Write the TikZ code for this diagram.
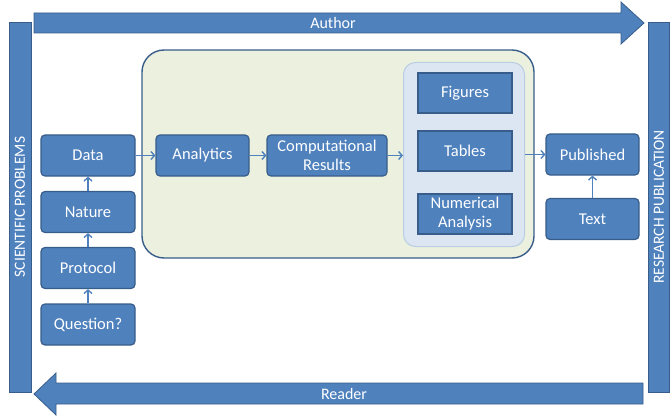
\documentclass[tikz,border=0pt]{standalone}
\usepackage{fontspec}
\setmainfont{Carlito}
\usetikzlibrary{arrows.meta}
\definecolor{boxblue}{HTML}{4F81BD}
\definecolor{boxline}{HTML}{385D8A}
\definecolor{greenfill}{HTML}{EBF1DE}
\definecolor{panelfill}{HTML}{DCE6F2}
\definecolor{panelline}{HTML}{B9CDE5}
\tikzset{
  box/.style={draw=boxline, line width=1.2pt, fill=boxblue, rounded corners=4pt,
    minimum width=94pt, minimum height=41pt, text=white, align=center,
    font=\fontsize{16.5}{19}\selectfont, inner sep=1pt},
  sqbox/.style={box, rounded corners=0pt, line width=1.6pt, minimum height=40pt},
  bigarrow/.style={draw=boxline, line width=0.8pt, fill=boxblue},
  bar/.style={draw=boxline, line width=0.8pt, fill=boxblue},
  lbl/.style={text=white, font=\fontsize{16}{18}\selectfont},
  barlbl/.style={text=white, font=\fontsize{15.5}{17}\selectfont},
  conn/.style={draw=boxblue, line width=1.4pt, -{Straight Barb[length=3.5pt,width=8pt]}}
}
\begin{document}
\begin{tikzpicture}[x=1pt,y=-1pt]
\useasboundingbox (0,0) rectangle (672,417);
% frame arrows and bars
\draw[bigarrow] (34,13) -- (621,13) -- (621,2) -- (644,23) -- (621,44) -- (621,33) -- (34,33) -- cycle;
\node[lbl] (author) at (333,23) {Author};
\draw[bigarrow] (643,383) -- (56,383) -- (56,373) -- (34,394) -- (56,415) -- (56,404) -- (643,404) -- cycle;
\node[lbl] (reader) at (344,394) {Reader};
\draw[bar] (9,22) rectangle (31,392);
\node[barlbl, rotate=90] (sci) at (20,207) {SCIENTIFIC PROBLEMS};
\draw[bar] (648,22) rectangle (669,392);
\node[barlbl, rotate=90] (res) at (659,207) {RESEARCH PUBLICATION};
% containers
\node[draw=boxline, line width=1.4pt, fill=greenfill, rounded corners=22pt,
  minimum width=392pt, minimum height=208pt] (green) at (338,154) {};
\node[draw=panelline, line width=1pt, fill=panelfill, rounded corners=12pt,
  minimum width=121pt, minimum height=184pt] (panel) at (464,154.5) {};
% boxes
\node[box] (data) at (88,155.5) {Data};
\node[box] (nature) at (88,212) {Nature};
\node[box] (protocol) at (88,268) {Protocol};
\node[box] (question) at (88,324.5) {Question?};
\node[box, minimum width=93pt] (analytics) at (202.5,155.5) {Analytics};
\node[box, minimum width=120pt] (comp) at (327,155.5) {Computational\\Results};
\node[sqbox] (figures) at (465,93) {Figures};
\node[sqbox] (tables) at (465,151) {Tables};
\node[sqbox] (numeric) at (465,214) {Numerical\\Analysis};
\node[box, minimum width=93pt] (published) at (592.5,154.5) {Published};
\node[box, minimum width=93pt] (text) at (592.5,219) {Text};
% connectors
\draw[conn] (question) -- (protocol);
\draw[conn] (protocol) -- (nature);
\draw[conn] (nature) -- (data);
\draw[conn] (data) -- (analytics);
\draw[conn] (analytics) -- (comp);
\draw[conn] (comp.east) -- (comp.east -| panel.west);
\draw[conn] (panel.east |- published.west) -- (published.west);
\draw[conn] (text) -- (published);
\end{tikzpicture}
\end{document}
